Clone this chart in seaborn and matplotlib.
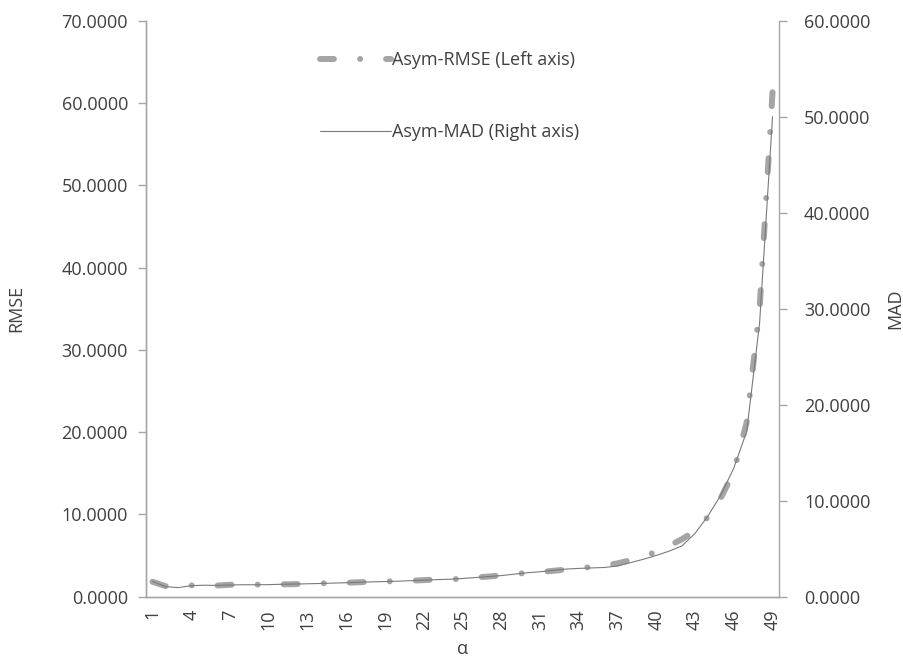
import numpy as np
import pandas as pd
import matplotlib
matplotlib.use("Agg")
import matplotlib.pyplot as plt
import seaborn as sns

# valeurs
alpha = list(range(1, 50))
rmse = [1.82, 1.30, 1.15, 1.38, 1.38, 1.36, 1.45, 1.52, 1.47, 1.48,
        1.50, 1.53, 1.56, 1.63, 1.66, 1.70, 1.76, 1.82, 1.86, 1.89,
        1.95, 2.02, 2.10, 2.12, 2.18, 2.35, 2.45, 2.60, 2.75, 2.90,
        3.00, 3.15, 3.30, 3.50, 3.60, 3.80, 4.05, 4.45, 4.90, 5.45,
        6.20, 7.00, 8.00, 9.70, 12.00, 15.20, 21.20, 35.00, 61.30]
mad = [1.60, 1.05, 0.95, 1.15, 1.20, 1.18, 1.22, 1.25, 1.25, 1.26,
       1.30, 1.32, 1.35, 1.38, 1.42, 1.46, 1.50, 1.55, 1.58, 1.62,
       1.67, 1.72, 1.78, 1.82, 1.90, 2.00, 2.10, 2.20, 2.35, 2.50,
       2.60, 2.75, 2.88, 2.95, 3.00, 3.05, 3.20, 3.55, 3.90, 4.30,
       4.75, 5.30, 6.60, 8.40, 10.60, 13.40, 17.20, 28.50, 50.00]
x_labels = [str(a) for a in alpha[::3]]

df = pd.DataFrame({"alpha": alpha, "RMSE": rmse, "MAD": mad})

sns.set_style("white")
plt.rcParams["font.family"] = ["Open Sans", "DejaVu Sans"]
txt_col = "#404040"
axis_col = "#a6a6a6"
fs = 13
lw_rmse = 4.3

fig = plt.figure(figsize=(9.04, 6.66), dpi=100)
ax = fig.add_axes([0.1615, 0.104, 0.7002, 0.865])
ax2 = ax.twinx()

ax.set_xlim(0.5, 49.5)
ax.set_ylim(0, 70)
ax2.set_ylim(0, 60)

# motif tiret-point, étiré un peu pour finir sur un tiret aux deux bouts
pts = ax.transData.transform(np.column_stack([alpha, rmse]))
L = np.hypot(*np.diff(pts, axis=0).T).sum() / (lw_rmse * 100 / 72)
dash_on, gap1, dot, gap2 = 2.33, 4.27, 0.01, 4.23
period = dash_on + gap1 + dot + gap2
n = max(1, round((L - dash_on) / period))
k = (L - dash_on - n * (dash_on + dot)) / (n * (gap1 + gap2))
pattern = (0, (dash_on, gap1 * k, dot, gap2 * k))

sns.lineplot(data=df, x="alpha", y="RMSE", ax=ax, color="#a5a5a5", lw=lw_rmse,
             linestyle=pattern, dash_capstyle="round",
             solid_capstyle="round", label="Asym-RMSE (Left axis)", legend=False)
sns.lineplot(data=df, x="alpha", y="MAD", ax=ax2, color="#7a7a7a", lw=0.8,
             label="Asym-MAD (Right axis)", legend=False)

ax.set_xlim(0.5, 49.5)
ax.set_ylim(0, 70)
ax2.set_ylim(0, 60)
ax.set_yticks(np.arange(0, 71, 10))
ax2.set_yticks(np.arange(0, 61, 10))
ax.set_yticklabels([f"{v:.4f}" for v in np.arange(0, 71, 10)])
ax2.set_yticklabels([f"{v:.4f}" for v in np.arange(0, 61, 10)])

ax.set_xticks(alpha[::3])
ax.set_xticklabels(x_labels, rotation=90)
ax.set_xticks(np.arange(0.5, 50, 1), minor=True)
ax.tick_params(axis="x", which="major", length=0, pad=9, labelsize=fs, labelcolor=txt_col)
ax.tick_params(axis="x", which="minor", length=5, width=1, color=axis_col, direction="out")
ax.tick_params(axis="y", length=6, width=1, color=axis_col, direction="out",
               pad=7, labelsize=fs, labelcolor=txt_col)
ax2.tick_params(axis="y", length=6, width=1, color=axis_col, direction="out",
                pad=12, labelsize=fs, labelcolor=txt_col)

for a in (ax, ax2):
    for side in ("left", "right", "bottom"):
        a.spines[side].set_color(axis_col)
        a.spines[side].set_linewidth(1)
    a.spines["top"].set_visible(False)
ax.spines["right"].set_visible(False)

ax.set_xlabel("α", fontsize=fs, color=txt_col)
ax.set_ylabel("RMSE", fontsize=fs, color=txt_col)
ax2.set_ylabel("MAD", fontsize=fs, color=txt_col, rotation=90)
ax.xaxis.set_label_coords(0.5, -0.075)
ax.yaxis.set_label_coords(-0.19, 0.5)
ax2.yaxis.set_label_coords(1.169, 0.5)

h1, l1 = ax.get_legend_handles_labels()
h2, l2 = ax2.get_legend_handles_labels()
leg = ax2.legend(h1 + h2, l1 + l2, loc="upper left", bbox_to_anchor=(0.25, 0.975),
                 frameon=False, fontsize=fs, handlelength=3.9, handletextpad=0.05,
                 labelspacing=2.97, labelcolor=txt_col)

fig.savefig("out.png", dpi=100)
